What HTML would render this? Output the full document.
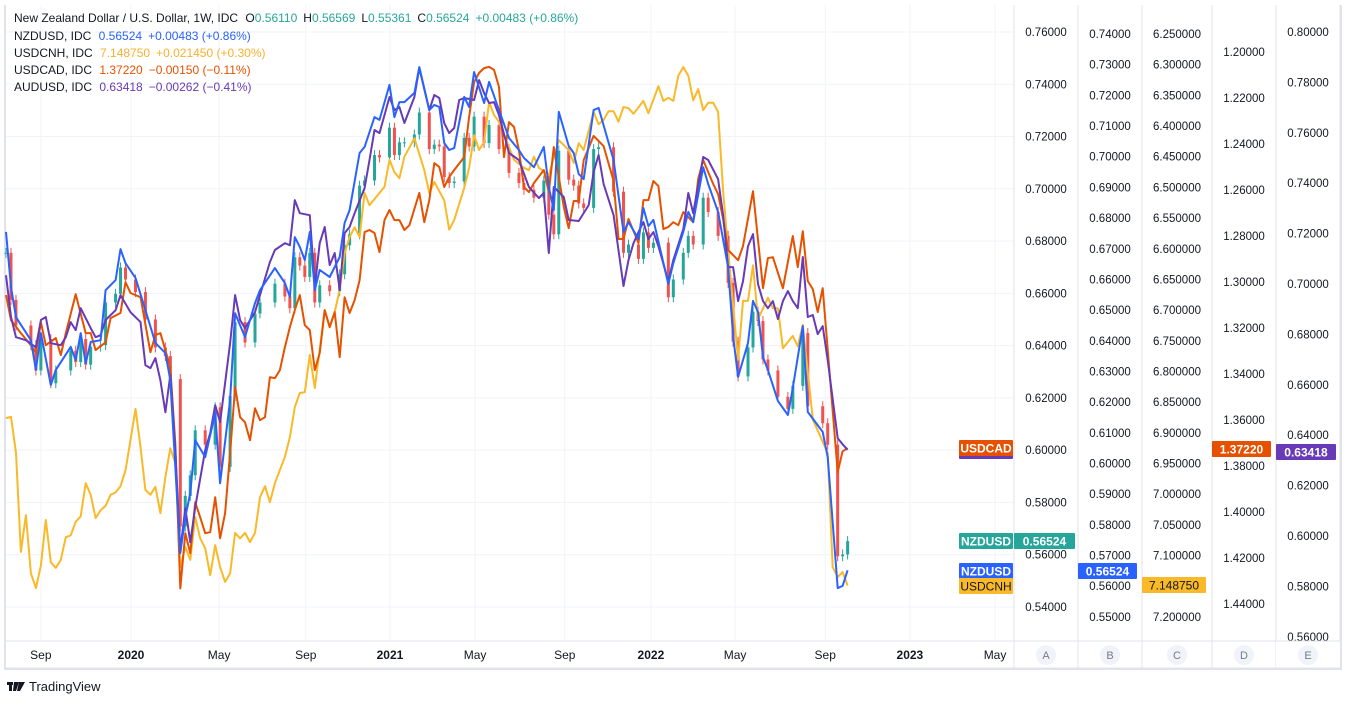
<!DOCTYPE html>
<html><head><meta charset="utf-8">
<style>
html,body{margin:0;padding:0;background:#fff;}
body{width:1346px;height:701px;overflow:hidden;font-family:"Liberation Sans",sans-serif;}
svg text{font-family:"Liberation Sans",sans-serif;}
</style></head>
<body>
<svg id="chart" width="1346" height="701" viewBox="0 0 1346 701" xmlns="http://www.w3.org/2000/svg">
  <rect x="5" y="4" width="1336" height="665" fill="#fff" stroke="#e0e3eb" stroke-width="2"/>
  <g id="grid"></g>
  <g id="series"></g>
  <g id="axes"></g>
  <g id="timeaxis"></g>
  <g font-size="12">
    <text x="14" y="22" fill="#131722">New Zealand Dollar / U.S. Dollar, 1W, IDC <tspan dx="4">O</tspan><tspan fill="#26a69a">0.56110</tspan><tspan dx="6">H</tspan><tspan fill="#26a69a">0.56569</tspan><tspan dx="6">L</tspan><tspan fill="#26a69a">0.55361</tspan><tspan dx="6">C</tspan><tspan fill="#26a69a">0.56524</tspan><tspan dx="6" fill="#26a69a">+0.00483 (+0.86%)</tspan></text>
    <text x="14" y="40" fill="#131722">NZDUSD, IDC <tspan dx="4" fill="#2962ff">0.56524</tspan><tspan dx="6" fill="#2962ff">+0.00483 (+0.86%)</tspan></text>
    <text x="14" y="57" fill="#131722">USDCNH, IDC <tspan dx="4" fill="#f9b12d">7.148750</tspan><tspan dx="6" fill="#f9b12d">+0.021450 (+0.30%)</tspan></text>
    <text x="14" y="74" fill="#131722">USDCAD, IDC <tspan dx="4" fill="#e65100">1.37220</tspan><tspan dx="6" fill="#e65100">−0.00150 (−0.11%)</tspan></text>
    <text x="14" y="91" fill="#131722">AUDUSD, IDC <tspan dx="4" fill="#673ab7">0.63418</tspan><tspan dx="6" fill="#673ab7">−0.00262 (−0.41%)</tspan></text>
  </g>
  <g id="badges"></g>
  <g>
    <rect x="7" y="682" width="6" height="3" fill="#131722"/>
    <rect x="9" y="682" width="3" height="9" fill="#131722"/>
    <polygon points="14,682 19,682 16,691 13,691" fill="#131722"/>
    <polygon points="19,682 25,682 20,691 17,691" fill="#131722"/>
    <text x="29" y="691" font-size="13" fill="#131722">TradingView</text>
  </g>
</svg>
<script>
// ---- data ----
const nzdWeeks=[0,1,2,5,6,7,9,10,13,14,15,16,17,19,20,22,23,24,26,28,30,32,33,35,36,37,38,40,42,43,45,46,48,50,51,54,56,57,58,59,60,61,62,63,65,67,68,69,71,72,74,75,77,78,79,80,82,83,85,86,87,88,89,90,92,93,94,96,97,99,101,103,104,106,108,109,110,111,113,114,115,116,118,119,122,124,125,127,128,129,130,133,134,136,137,138,140,141,143,145,146,147,149,150,151,152,153,155,157,158,160,161,164,165,167,168,169];
const nzdValues=[.6755,.6575,.6477,.6402,.6305,.6425,.6256,.6305,.6380,.6337,.6425,.6327,.6396,.6402,.6565,.6598,.6699,.6653,.6605,.6500,.6393,.6360,.6272,.5708,.5825,.5904,.6076,.6021,.6164,.5936,.6207,.6490,.6412,.6523,.6565,.6637,.6588,.6543,.6738,.6706,.6663,.6755,.6565,.6631,.6608,.6673,.6784,.6826,.7012,.7032,.7129,.7120,.7234,.7129,.7178,.7178,.7208,.7292,.7152,.7169,.7162,.7045,.7022,.7028,.7195,.7162,.7276,.7175,.7244,.7152,.7061,.7022,.6996,.6966,.7032,.6901,.6826,.7146,.7035,.7012,.6944,.6927,.7152,.7159,.6989,.6755,.6787,.6732,.6833,.6774,.6794,.6585,.6653,.6755,.6820,.6787,.6966,.6911,.6820,.6640,.6415,.6282,.6393,.6530,.6494,.6347,.6305,.6204,.6158,.6246,.6448,.6168,.6103,.6021,.5594,.5601,.5652];
const cnhWeeks=[0,1,2,3,4,5,6,7,8,9,10,11,12,13,14,15,16,17,18,19,20,21,22,23,24,25,26,27,28,29,30,31,32,33,34,35,36,37,38,39,40,41,42,43,44,45,46,47,48,49,50,51,52,53,54,56,57,58,59,60,61,62,63,64,65,66,67,68,69,70,71,72,73,75,76,77,78,79,80,82,84,85,86,88,89,90,92,93,94,95,96,97,98,99,102,104,105,106,107,109,111,113,114,115,116,118,119,120,121,122,123,124,125,126,128,129,131,132,133,134,135,136,137,138,139,140,141,142,143,144,145,147,148,149,150,151,153,154,155,156,158,159,160,162,165,166,167,168,169];
const cnhValues=[6.876,6.874,6.933,7.094,7.034,7.129,7.153,7.116,7.042,7.111,7.120,7.107,7.070,7.067,7.045,7.036,6.982,7.001,7.039,7.026,7.019,7.001,6.997,6.987,6.961,6.912,6.861,6.923,6.993,7.001,6.988,7.031,6.972,6.925,6.949,7.119,7.086,7.107,7.037,7.072,7.088,7.132,7.083,7.119,7.143,7.129,7.063,7.072,7.063,7.078,7.063,7.005,6.987,7.013,6.982,6.939,6.907,6.858,6.835,6.834,6.773,6.827,6.765,6.700,6.728,6.703,6.667,6.607,6.581,6.565,6.581,6.509,6.529,6.509,6.499,6.455,6.475,6.485,6.450,6.420,6.472,6.509,6.491,6.521,6.569,6.553,6.501,6.468,6.415,6.439,6.426,6.361,6.382,6.393,6.455,6.468,6.472,6.450,6.468,6.480,6.423,6.439,6.460,6.428,6.439,6.377,6.397,6.390,6.376,6.376,6.393,6.369,6.371,6.380,6.359,6.379,6.335,6.359,6.354,6.359,6.318,6.304,6.318,6.358,6.340,6.374,6.362,6.362,6.377,6.506,6.602,6.781,6.685,6.685,6.627,6.715,6.680,6.697,6.697,6.762,6.742,6.759,6.724,6.878,6.933,7.119,7.135,7.127,7.149];
const cadWeeks=[0,1,3,5,6,7,8,10,11,12,14,16,17,18,20,21,23,24,25,27,29,30,31,33,34,35,36,37,38,39,40,41,42,43,44,45,46,47,48,49,50,51,52,53,54,55,56,57,58,59,60,61,62,63,64,65,66,67,68,69,70,71,72,73,74,75,76,77,78,79,80,81,83,84,85,86,87,88,89,90,92,93,94,95,96,97,98,99,100,101,102,103,104,105,106,108,109,110,112,113,114,115,116,118,119,120,122,123,124,125,127,128,129,130,131,132,133,134,135,136,138,139,140,142,143,144,145,147,148,150,152,153,154,156,158,159,160,161,162,163,164,167,168,169];
const cadValues=[1.3057,1.3166,1.3222,1.3275,1.3309,1.3175,1.3275,1.3244,1.3318,1.3222,1.3053,1.3222,1.3222,1.3296,1.3262,1.3157,1.3135,1.3001,1.3048,1.3066,1.3305,1.3231,1.3222,1.3370,1.3701,1.4332,1.4092,1.4179,1.3958,1.4023,1.4092,1.4088,1.3936,1.4114,1.4005,1.3744,1.3457,1.3588,1.3610,1.3688,1.3549,1.3601,1.3588,1.3414,1.3418,1.3383,1.3283,1.3196,1.3122,1.3057,1.3188,1.3209,1.3383,1.3309,1.3122,1.3196,1.3131,1.3327,1.3066,1.3135,1.3079,1.2992,1.2783,1.2774,1.2787,1.2870,1.2731,1.2687,1.2731,1.2731,1.2774,1.2753,1.2613,1.2740,1.2644,1.2483,1.2500,1.2587,1.2544,1.2513,1.2457,1.2283,1.2131,1.2091,1.2070,1.2065,1.2078,1.2152,1.2457,1.2305,1.2326,1.2426,1.2587,1.2609,1.2570,1.2513,1.2609,1.2413,1.2674,1.2766,1.2648,1.2648,1.2470,1.2365,1.2387,1.2409,1.2561,1.2813,1.2813,1.2726,1.2831,1.2644,1.2644,1.2561,1.2583,1.2770,1.2761,1.2740,1.2753,1.2696,1.2740,1.2552,1.2470,1.2574,1.2618,1.2726,1.2861,1.2905,1.2844,1.2605,1.3027,1.2896,1.2892,1.3027,1.2800,1.2935,1.2779,1.2996,1.3031,1.3131,1.3027,1.3827,1.3736,1.3722];
const audWeeks=[0,1,2,4,6,7,8,9,11,12,13,14,15,17,18,19,20,22,23,25,27,28,29,30,31,32,33,34,35,36,37,38,40,41,42,43,44,45,46,47,48,50,51,53,54,56,57,58,59,61,62,63,64,65,66,67,68,69,70,72,73,74,75,77,78,79,80,82,83,85,86,87,88,89,90,91,92,94,95,96,97,98,99,101,103,105,107,108,109,110,112,113,115,117,118,119,120,122,124,125,126,127,128,129,130,131,133,134,136,137,138,140,141,143,144,145,146,147,148,149,150,151,152,153,154,155,156,157,158,159,160,161,162,163,164,165,167,168,169];
const audValues=[.7035,.6869,.6789,.6777,.6749,.6857,.6869,.6765,.6757,.6789,.6849,.6817,.6904,.6825,.6789,.6797,.6857,.6896,.6956,.6888,.6849,.6678,.6666,.6706,.6618,.6491,.6638,.6341,.5944,.6110,.5975,.6114,.6341,.6408,.6519,.6452,.6607,.6765,.6956,.6857,.6825,.6888,.6956,.7087,.7135,.7162,.7154,.7333,.7281,.7273,.6988,.7162,.7226,.7075,.7123,.6976,.7202,.7226,.7281,.7381,.7492,.7611,.7599,.7742,.7690,.7702,.7639,.7742,.7857,.7690,.7750,.7738,.7639,.7599,.7619,.7730,.7738,.7730,.7809,.7758,.7718,.7722,.7670,.7520,.7492,.7385,.7341,.7361,.7123,.7385,.7345,.7254,.7250,.7313,.7444,.7512,.7397,.7273,.6992,.7095,.7162,.7206,.7246,.7178,.7206,.7150,.7011,.7095,.7218,.7361,.7281,.7504,.7492,.7416,.7273,.7067,.7067,.6932,.7011,.7150,.7198,.7000,.6932,.6904,.6932,.6861,.6932,.6972,.6932,.6904,.7107,.6869,.6877,.6801,.6833,.6698,.6388,.6364,.6342];
const timeTickWeeks=[7,25.1,42.8,60.2,77.1,94.2,112.2,129.5,146.4,164.5,181.5,198.6];
const timeTickLabels=["Sep","2020","May","Sep","2021","May","Sep","2022","May","Sep","2023","May"];
const axisATicks=[0.76,0.74,0.72,0.70,0.68,0.66,0.64,0.62,0.60,0.58,0.56,0.54];
const axisBTicks=[0.74,0.73,0.72,0.71,0.70,0.69,0.68,0.67,0.66,0.65,0.64,0.63,0.62,0.61,0.60,0.59,0.58,0.57,0.56,0.55];
const axisCTicks=[6.25,6.30,6.35,6.40,6.45,6.50,6.55,6.60,6.65,6.70,6.75,6.80,6.85,6.90,6.95,7.00,7.05,7.10,7.15,7.20];
const axisDTicks=[1.20,1.22,1.24,1.26,1.28,1.30,1.32,1.34,1.36,1.38,1.40,1.42,1.44];
const axisETicks=[0.80,0.78,0.76,0.74,0.72,0.70,0.68,0.66,0.64,0.62,0.60,0.58,0.56];

// ---- scales ----
const NS="http://www.w3.org/2000/svg";
const xOf=w=>6+w*4.98;
const yA=v=>32+(0.76-v)/0.02*52.27;
const yB=v=>34+(0.74-v)/0.01*30.68;
const yC=v=>34+(v-6.25)/0.05*30.68;
const yD=v=>52+(v-1.20)/0.02*46;
const yE=v=>32+(0.80-v)/0.02*50.4;
function mk(tag,attrs,parent){const e=document.createElementNS(NS,tag);for(const k in attrs)e.setAttribute(k,attrs[k]);parent.appendChild(e);return e;}
const grid=document.getElementById('grid'),series=document.getElementById('series'),axes=document.getElementById('axes'),ta=document.getElementById('timeaxis'),badges=document.getElementById('badges');

// grid
axisATicks.forEach(v=>{const l=mk('line',{x1:6,x2:1014,y1:yA(v),y2:yA(v),stroke:'#f0f3fa','stroke-width':1},grid);

});
timeTickWeeks.forEach(w=>{const l=mk('line',{x1:xOf(w),x2:xOf(w),y1:5,y2:641,stroke:'#f0f3fa','stroke-width':1},grid);

});

// candles
nzdValues.forEach((c,i)=>{
  const o=i>0?nzdValues[i-1]:c;
  const up=c>=o,col=up?'#26a69a':'#ef5350';
  const x=xOf(nzdWeeks[i]);
  const yt=Math.min(yA(o),yA(c)),yb=Math.max(yA(o),yA(c));
  const g=mk('g',{},series);
  
  
  mk('line',{x1:x,x2:x,y1:yt-5,y2:yb+5,stroke:col,'stroke-width':1},g);
  mk('rect',{x:x-1.5,y:yt,width:3,height:Math.max(1,yb-yt),fill:col},g);
});
function line(weeks,vals,ys,col,name){
  const d=weeks.map((w,i)=>(i?'L':'M')+xOf(w).toFixed(1)+','+ys(vals[i]).toFixed(1)).join(' ');
  const p=mk('path',{d:d,fill:'none',stroke:col,'stroke-width':2,'stroke-linejoin':'round'},series);
  
  
}
line(cnhWeeks,cnhValues,yC,'#f9b928','usdcnh-line');
line(cadWeeks,cadValues,yD,'#e65100','usdcad-line');
line(audWeeks,audValues,yE,'#673ab7','audusd-line');
line(nzdWeeks,nzdValues,yB,'#2962ff','nzdusd-line');

// axes columns
[1014,1078,1142,1212,1276,1340].forEach(x=>{const l=mk('line',{x1:x,x2:x,y1:5,y2:668,stroke:'#e0e3eb','stroke-width':1},axes);

});
mk('rect',{x:0,y:0,width:1346,height:5,fill:'#fff'},axes);
function ticks(arr,ys,cx,dec,name){arr.forEach(v=>{const t=mk('text',{x:cx,y:ys(v)+4,'font-size':11.5,fill:'#131722','text-anchor':'middle'},axes);t.textContent=v.toFixed(dec);

});}
ticks(axisATicks,yA,1046,5,'axis-a-tick');
ticks(axisBTicks,yB,1110,5,'axis-b-tick');
ticks(axisCTicks,yC,1177,6,'axis-c-tick');
ticks(axisDTicks,yD,1244,5,'axis-d-tick');
ticks(axisETicks,yE,1308,5,'axis-e-tick');
mk('rect',{x:1276,y:641,width:64,height:27,fill:'#fff'},axes);

// time axis
mk('line',{x1:6,x2:1340,y1:641,y2:641,stroke:'#e0e3eb'},ta);
mk('line',{x1:6,x2:1340,y1:668,y2:668,stroke:'#e0e3eb'},ta);
timeTickWeeks.forEach((w,i)=>{const lab=timeTickLabels[i];const yr=/^\d/.test(lab);
const t=mk('text',{x:xOf(w),y:659,'font-size':12,fill:'#131722','text-anchor':'middle','font-weight':yr?'bold':'normal'},ta);t.textContent=lab;

});
[['A',1046],['B',1110],['C',1177],['D',1244],['E',1308]].forEach(([L,x])=>{
  const g=mk('g',{},ta);
  
  
  mk('circle',{cx:x,cy:655,r:10,fill:'#f0f3fa'},g);
  const t=mk('text',{x:x,y:659,'font-size':11,fill:'#787b86','text-anchor':'middle'},g);t.textContent=L;
});

// badges
function badge(x,y,w,bg,fg,txt,name,bold){
  const g=mk('g',{},badges);
  
  
  mk('rect',{x:x,y:y,width:w,height:16,fill:bg,rx:1},g);
  const t=mk('text',{x:x+w/2,y:y+12.5,'font-size':12,fill:fg,'text-anchor':'middle','font-weight':bold?'bold':'normal'},g);t.textContent=txt;
}
badge(959,443,54,'#673ab7','#fff','','audusd-name-badge',true);
badge(959,440,54,'#e65100','#fff','USDCAD','usdcad-name-badge',true);
badge(959,533,54,'#26a69a','#fff','NZDUSD','nzdusd-candle-name-badge',true);
badge(1014,533,61,'#26a69a','#fff','0.56524','axis-a-last-price',true);
badge(959,563,54,'#2962ff','#fff','NZDUSD','nzdusd-line-name-badge',true);
badge(959,578,54,'#f9b928','#131722','USDCNH','usdcnh-name-badge',false);
badge(1078,563,59,'#2962ff','#fff','0.56524','axis-b-last-price',true);
badge(1142,577,64,'#f9b928','#131722','7.148750','axis-c-last-price',false);
badge(1212,441,59,'#e65100','#fff','1.37220','axis-d-last-price',true);
badge(1276,444,60,'#673ab7','#fff','0.63418','axis-e-last-price',true);
</script>
</body></html>
